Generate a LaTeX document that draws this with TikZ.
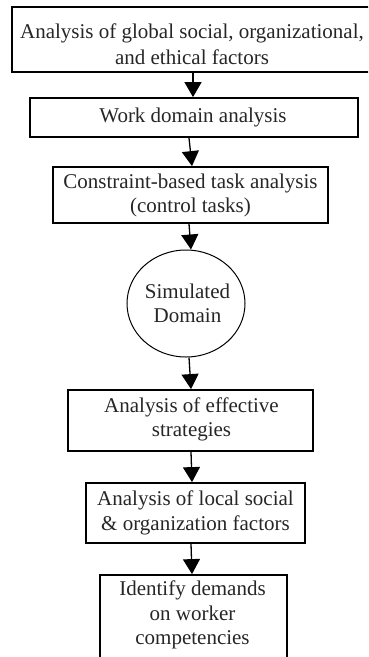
\documentclass[tikz,border=0pt]{standalone}
\usepackage{fontspec}
\setmainfont{Liberation Serif}
\usetikzlibrary{arrows.meta,shapes.geometric}
\begin{document}
\begin{tikzpicture}[x=1pt,y=-1pt,
  box/.style={draw, line width=1.8pt, inner sep=0pt},
  bubble/.style={draw, ellipse, line width=1pt, inner sep=0pt},
  txt/.style={align=center, font=\fontsize{21}{24.5}\selectfont, inner sep=0pt, text=black!85},
  arr/.style={-{Triangle[width=17pt,length=15pt]}, line width=1.3pt}]
\useasboundingbox (0,0) rectangle (368,657);
\clip (0,0) rectangle (368,657);

% boxes of the flow (the first and last run past the page edge)
\node[box, minimum width=376pt, minimum height=65pt] (b1) at (200,39.5) {};
\node[box, minimum width=328pt, minimum height=39pt] (b2) at (194,117.5) {};
\node[box, minimum width=275pt, minimum height=56pt] (b3) at (190.5,195) {};
\node[bubble, minimum width=118pt, minimum height=107pt] (sim) at (186,303.5) {};
\node[box, minimum width=245pt, minimum height=61pt] (b4) at (190.5,420.5) {};
\node[box, minimum width=219pt, minimum height=60pt] (b5) at (195.5,513) {};
\node[box, minimum width=187pt, minimum height=125pt] (b6) at (193.5,637.5) {};

% texts
\node[txt] (t1) at (192,44) {Analysis of global social, organizational,\\[1.5pt]and ethical factors};
\node[txt] (t2) at (193,117.5) {Work domain analysis};
\node[txt] (t3) at (190.5,195.5) {Constraint-based task analysis\\(control tasks)};
\node[txt] (t4) at (187.5,303.5) {Simulated\\Domain};
\node[txt] (t5) at (191.5,419.5) {Analysis of effective\\strategies};
\node[txt] (t6) at (195.5,513) {Analysis of local social\\\& organization factors};
\node[txt] (t7) at (192.5,615) {Identify demands\\on worker\\competencies};

% connectors
\draw[arr] ([xshift=-7pt]b1.south) -- ([xshift=-1pt]b2.north);
\draw[arr] ([xshift=-5pt]b2.south) -- ([xshift=1.5pt]b3.north);
\draw[arr] ([xshift=-1.5pt]b3.south) -- ([xshift=5pt]sim.north);
\draw[arr] ([xshift=3pt]sim.south) -- ([xshift=0.5pt]b4.north);
\draw[arr] ([xshift=0.5pt]b4.south) -- ([xshift=-3.5pt]b5.north);
\draw[arr] ([xshift=-4.5pt]b5.south) -- ([xshift=-1.5pt]b6.north);
\end{tikzpicture}
\end{document}
